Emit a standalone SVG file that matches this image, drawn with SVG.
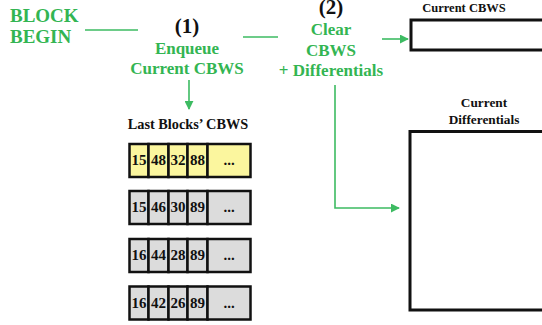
<svg xmlns="http://www.w3.org/2000/svg" width="542" height="325" viewBox="0 0 542 325">
<defs>
<style>
text{font-family:"Liberation Serif","Times New Roman",serif;font-weight:bold}
.g{fill:#33b552}
.k{fill:#111}
.ln{stroke:#3dbb62;stroke-width:1.6;fill:none}
.box{stroke:#111;stroke-width:3}
.cell{stroke:#111;stroke-width:2.5}
.y{fill:#fbf69e}
.gr{fill:#dcdcdc}
.n{font-size:15px;fill:#111}
</style>
<marker id="ah" viewBox="0 0 10 10" refX="9" refY="5" markerWidth="9" markerHeight="9" markerUnits="userSpaceOnUse" orient="auto">
<path d="M0,0 L10,5 L0,10 z" fill="#3dbb62"/>
</marker>
</defs>
<g id="block-begin">
<text class="g" x="10" y="22" font-size="19">BLOCK</text>
<text class="g" x="10" y="43" font-size="19">BEGIN</text>
</g>
<g id="step1">
<text class="k" x="187" y="33" font-size="21" text-anchor="middle">(1)</text>
<text class="g" x="187" y="54" font-size="17" text-anchor="middle">Enqueue</text>
<text class="g" x="187" y="74" font-size="17" text-anchor="middle">Current CBWS</text>
</g>
<g id="step2">
<text class="k" x="331" y="14" font-size="21" text-anchor="middle">(2)</text>
<text class="g" x="331" y="35" font-size="17" text-anchor="middle">Clear</text>
<text class="g" x="331" y="56" font-size="17" text-anchor="middle">CBWS</text>
<text class="g" x="331" y="76" font-size="17" text-anchor="middle">+ Differentials</text>
</g>
<g id="current-cbws">
<text class="k" x="464" y="12" font-size="12.5" text-anchor="middle">Current CBWS</text>
<rect class="box" x="411" y="20" width="140" height="30" fill="#fff"/>
</g>
<g id="current-differentials">
<text class="k" x="484" y="107" font-size="13.3" text-anchor="middle">Current</text>
<text class="k" x="484" y="124" font-size="13.3" text-anchor="middle">Differentials</text>
<rect class="box" x="410" y="131.5" width="140" height="178.5" fill="#fff"/>
</g>
<g id="last-blocks">
<text class="k" x="188" y="129" font-size="14.3" text-anchor="middle">Last Blocks’ CBWS</text>
<g id="row1">
<rect class="cell y" x="129.5" y="144" width="19" height="33"/>
<rect class="cell y" x="148.5" y="144" width="20" height="33"/>
<rect class="cell y" x="168.5" y="144" width="19" height="33"/>
<rect class="cell y" x="187.5" y="144" width="20" height="33"/>
<rect class="cell y" x="207.5" y="144" width="43" height="33"/>
<text class="n" x="139" y="165" text-anchor="middle">15</text>
<text class="n" x="158.5" y="165" text-anchor="middle">48</text>
<text class="n" x="178" y="165" text-anchor="middle">32</text>
<text class="n" x="197.5" y="165" text-anchor="middle">88</text>
<text class="n" x="229" y="165" text-anchor="middle">...</text>
</g>
<g id="row2">
<rect class="cell gr" x="129.5" y="191" width="19" height="33"/>
<rect class="cell gr" x="148.5" y="191" width="20" height="33"/>
<rect class="cell gr" x="168.5" y="191" width="19" height="33"/>
<rect class="cell gr" x="187.5" y="191" width="20" height="33"/>
<rect class="cell gr" x="207.5" y="191" width="43" height="33"/>
<text class="n" x="139" y="212" text-anchor="middle">15</text>
<text class="n" x="158.5" y="212" text-anchor="middle">46</text>
<text class="n" x="178" y="212" text-anchor="middle">30</text>
<text class="n" x="197.5" y="212" text-anchor="middle">89</text>
<text class="n" x="229" y="212" text-anchor="middle">...</text>
</g>
<g id="row3">
<rect class="cell gr" x="129.5" y="239" width="19" height="33"/>
<rect class="cell gr" x="148.5" y="239" width="20" height="33"/>
<rect class="cell gr" x="168.5" y="239" width="19" height="33"/>
<rect class="cell gr" x="187.5" y="239" width="20" height="33"/>
<rect class="cell gr" x="207.5" y="239" width="43" height="33"/>
<text class="n" x="139" y="260" text-anchor="middle">16</text>
<text class="n" x="158.5" y="260" text-anchor="middle">44</text>
<text class="n" x="178" y="260" text-anchor="middle">28</text>
<text class="n" x="197.5" y="260" text-anchor="middle">89</text>
<text class="n" x="229" y="260" text-anchor="middle">...</text>
</g>
<g id="row4">
<rect class="cell gr" x="129.5" y="286.5" width="19" height="33"/>
<rect class="cell gr" x="148.5" y="286.5" width="20" height="33"/>
<rect class="cell gr" x="168.5" y="286.5" width="19" height="33"/>
<rect class="cell gr" x="187.5" y="286.5" width="20" height="33"/>
<rect class="cell gr" x="207.5" y="286.5" width="43" height="33"/>
<text class="n" x="139" y="307.5" text-anchor="middle">16</text>
<text class="n" x="158.5" y="307.5" text-anchor="middle">42</text>
<text class="n" x="178" y="307.5" text-anchor="middle">26</text>
<text class="n" x="197.5" y="307.5" text-anchor="middle">89</text>
<text class="n" x="229" y="307.5" text-anchor="middle">...</text>
</g>
</g>
<g id="connectors">
<line class="ln" x1="85" y1="30" x2="138" y2="30"/>
<line class="ln" x1="243" y1="37" x2="278" y2="37"/>
<line class="ln" x1="189" y1="80" x2="189" y2="109" marker-end="url(#ah)"/>
<line class="ln" x1="382" y1="39" x2="408" y2="39" marker-end="url(#ah)"/>
<polyline class="ln" points="335,85 335,208 399,208" marker-end="url(#ah)"/>
</g>
</svg>
